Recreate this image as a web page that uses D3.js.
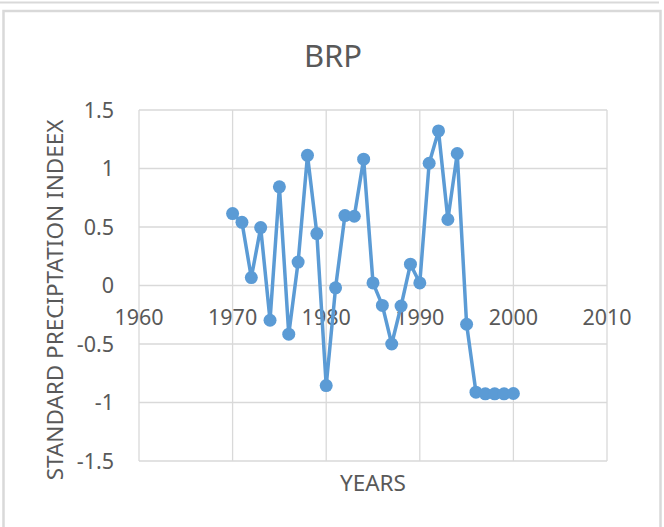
<!DOCTYPE html>
<html lang="en">
  <head>
    <meta charset="UTF-8" />
    <title>BRP</title>
    <script src="https://cdnjs.cloudflare.com/ajax/libs/d3/7.9.0/d3.min.js"></script>
    <style>
      html,
      body {
        margin: 0;
        padding: 0;
        background: #ffffff;
      }
      svg {
        display: block;
        font-family: "Noto Sans", "Open Sans", sans-serif;
      }
      .grid line {
        stroke: #d9d9d9;
        stroke-width: 1.3px;
      }
      .tick-label {
        fill: #595959;
        font-size: 21.5px;
      }
      .axis-title {
        fill: #595959;
        font-size: 22.5px;
      }
    </style>
  </head>
  <body>
    <svg id="chart" width="664" height="527"></svg>

    <script>
      /* ---------- data ---------- */
      const years = [
        1970, 1971, 1972, 1973, 1974, 1975, 1976, 1977, 1978, 1979, 1980, 1981,
        1982, 1983, 1984, 1985, 1986, 1987, 1988, 1989, 1990, 1991, 1992, 1993,
        1994, 1995, 1996, 1997, 1998, 1999, 2000,
      ];
      const spi = [
        0.615, 0.54, 0.068, 0.495, -0.297, 0.843, -0.416, 0.2, 1.113, 0.444,
        -0.855, -0.02, 0.598, 0.592, 1.08, 0.022, -0.17, -0.5, -0.175, 0.182,
        0.022, 1.045, 1.321, 0.564, 1.128, -0.331, -0.912, -0.926, -0.926,
        -0.926, -0.923,
      ];
      const xTicks = [1960, 1970, 1980, 1990, 2000, 2010];
      const yTicks = [-1.5, -1, -0.5, 0, 0.5, 1, 1.5];

      const chartTitle = "BRP";
      const xTitle = "YEARS";
      const yTitle = "STANDARD PRECIPTATION INDEEX";

      /* ---------- layout ---------- */
      const svg = d3.select("#chart");
      const plot = { left: 139, right: 607, top: 110, bottom: 461 };

      const x = d3.scaleLinear().domain([1960, 2010]).range([plot.left, plot.right]);
      const y = d3.scaleLinear().domain([-1.5, 1.5]).range([plot.bottom, plot.top]);

      // chart frame (border of the Excel chart object)
      svg
        .append("line")
        .attr("x1", 0)
        .attr("x2", 659)
        .attr("y1", 2.5)
        .attr("y2", 2.5)
        .attr("stroke", "#d9d9d9")
        .attr("stroke-width", 2);
      svg
        .append("rect")
        .attr("x", 3.5)
        .attr("y", 11)
        .attr("width", 657)
        .attr("height", 530)
        .attr("fill", "none")
        .attr("stroke", "#d9d9d9")
        .attr("stroke-width", 2.5);

      /* ---------- grid ---------- */
      const grid = svg.append("g").classed("grid", true);
      grid
        .selectAll("line.h")
        .data(yTicks)
        .enter()
        .append("line")
        .attr("class", "h")
        .attr("x1", plot.left)
        .attr("x2", plot.right)
        .attr("y1", (d) => y(d))
        .attr("y2", (d) => y(d));
      grid
        .selectAll("line.v")
        .data(xTicks)
        .enter()
        .append("line")
        .attr("class", "v")
        .attr("x1", (d) => x(d))
        .attr("x2", (d) => x(d))
        .attr("y1", plot.top)
        .attr("y2", plot.bottom);

      /* ---------- tick labels (under the series, as in Excel) ---------- */
      svg
        .append("g")
        .selectAll("text")
        .data(yTicks)
        .enter()
        .append("text")
        .attr("class", "tick-label")
        .attr("x", 114)
        .attr("y", (d) => y(d))
        .attr("dy", "0.36em")
        .attr("text-anchor", "end")
        .text((d) => String(d));

      svg
        .append("g")
        .selectAll("text")
        .data(xTicks)
        .enter()
        .append("text")
        .attr("class", "tick-label")
        .attr("x", (d) => x(d))
        .attr("y", y(0) + 32)
        .attr("dy", "0.36em")
        .attr("text-anchor", "middle")
        .text((d) => d);

      /* ---------- titles ---------- */
      svg
        .append("text")
        .attr("x", 333)
        .attr("y", 67)
        .attr("text-anchor", "middle")
        .attr("fill", "#595959")
        .attr("font-size", "31px")
        .text(chartTitle);

      svg
        .append("text")
        .attr("class", "axis-title")
        .attr("x", (plot.left + plot.right) / 2)
        .attr("y", 491)
        .attr("text-anchor", "middle")
        .text(xTitle);

      svg
        .append("text")
        .attr("class", "axis-title")
        .attr("transform", "translate(63,300) rotate(-90)")
        .attr("text-anchor", "middle")
        .text(yTitle);

      /* ---------- series ---------- */
      const data = years.map((yr, i) => ({ year: yr, value: spi[i] }));
      const line = d3
        .line()
        .x((d) => x(d.year))
        .y((d) => y(d.value));

      svg
        .append("path")
        .datum(data)
        .attr("d", line)
        .attr("fill", "none")
        .attr("stroke", "#5b9bd5")
        .attr("stroke-width", 3.5)
        .attr("stroke-linejoin", "round");

      svg
        .append("g")
        .selectAll("circle")
        .data(data)
        .enter()
        .append("circle")
        .attr("cx", (d) => x(d.year))
        .attr("cy", (d) => y(d.value))
        .attr("r", 6.5)
        .attr("fill", "#5b9bd5");
    </script>
  </body>
</html>
